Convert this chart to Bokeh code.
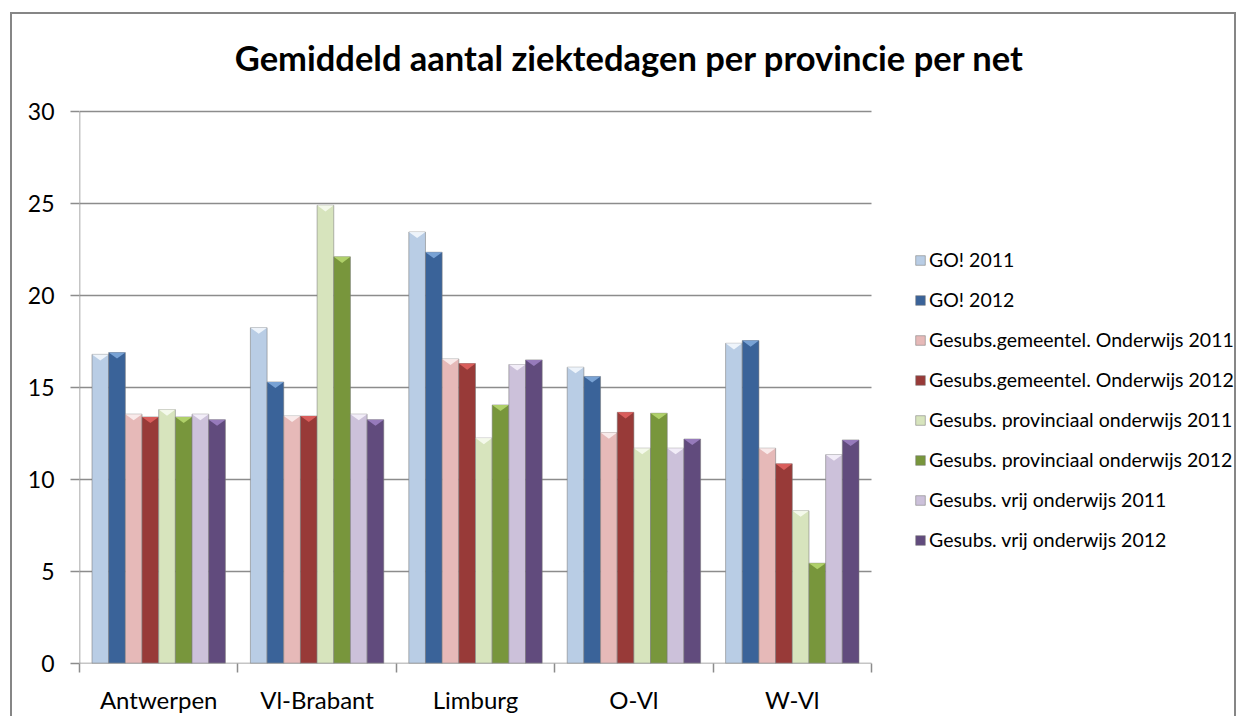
from bokeh.plotting import figure
from bokeh.models import FixedTicker, Range1d, ColumnDataSource, Legend, LegendItem, Label
from bokeh.embed import file_html
from bokeh.resources import INLINE

# ---- data ----
provinces = ["Antwerpen", "Vl-Brabant", "Limburg", "O-Vl", "W-Vl"]
series_names = [
    "GO! 2011",
    "GO! 2012",
    "Gesubs.gemeentel. Onderwijs 2011",
    "Gesubs.gemeentel. Onderwijs 2012",
    "Gesubs. provinciaal onderwijs 2011",
    "Gesubs. provinciaal onderwijs 2012",
    "Gesubs. vrij onderwijs 2011",
    "Gesubs. vrij onderwijs 2012",
]
go_2011 = [16.8, 18.25, 23.45, 16.1, 17.4]
go_2012 = [16.9, 15.3, 22.35, 15.6, 17.55]
gem_2011 = [13.55, 13.45, 16.55, 12.55, 11.7]
gem_2012 = [13.4, 13.45, 16.3, 13.65, 10.85]
prov_2011 = [13.8, 24.9, 12.25, 11.7, 8.3]
prov_2012 = [13.4, 22.1, 14.05, 13.6, 5.45]
vrij_2011 = [13.55, 13.55, 16.25, 11.7, 11.35]
vrij_2012 = [13.25, 13.25, 16.5, 12.2, 12.15]
series_values = [go_2011, go_2012, gem_2011, gem_2012,
                 prov_2011, prov_2012, vrij_2011, vrij_2012]
y_ticks = [0, 5, 10, 15, 20, 25, 30]
title_text = "Gemiddeld aantal ziektedagen per provincie per net"

# ---- styles / layout ----
colors = ["#B9CDE5", "#3A6399", "#E6B9B8", "#983A38",
          "#D7E4BD", "#78963C", "#CCC1DA", "#614B7D"]
bevel = ["#F4F8FD", "#7FA8DA", "#FBF0F0", "#E0625F",
         "#F7FBEF", "#B5D66E", "#F6F2FB", "#9C7FC2"]
FONT = "Lato"
GRAY = "#8C8C8C"

FIG_W, FIG_H = 1226, 704
BORDER_L, BORDER_R, BORDER_T, BORDER_B = 67, 0, 0, 55
CHART_PX_W = 792        # pixel width of the bar area
CHART_PX_H = 552        # pixel height of the value axis (0..30)
frame_w = FIG_W - BORDER_L - BORDER_R
frame_h = FIG_H - BORDER_T - BORDER_B
n_cat = len(provinces)
y_top = y_ticks[-1]
x_end = n_cat * frame_w / CHART_PX_W   # frame also hosts the legend
y_end = y_top * frame_h / CHART_PX_H   # frame also hosts the title

p = figure(width=FIG_W, height=FIG_H, title=None,
           x_range=Range1d(0, x_end), y_range=Range1d(0, y_end),
           output_backend="svg", toolbar_location=None,
           min_border_left=BORDER_L, min_border_right=BORDER_R,
           min_border_top=BORDER_T, min_border_bottom=BORDER_B)
p.styles = {"border-top": "2px solid #868686",
            "border-left": "2px solid #868686",
            "border-right": "2px solid #868686",
            "position": "relative", "left": "10px", "top": "12px"}
p.outline_line_color = None
p.background_fill_color = "white"
p.border_fill_color = "white"
p.xgrid.grid_line_color = None
p.ygrid.grid_line_color = None

# horizontal gridlines limited to the bar area
grid_y = y_ticks[1:]
p.segment(x0=[0] * len(grid_y), x1=[n_cat] * len(grid_y), y0=grid_y, y1=grid_y,
          line_color=GRAY, line_width=1.5)

n_series = len(series_values)
bw = 1.0 / (n_series + 1.5)
bevel_depth = 0.33

renderers = []
for j, (name, vals) in enumerate(zip(series_names, series_values)):
    xs = [i + 0.5 + (j - (n_series - 1) / 2) * bw for i in range(n_cat)]
    src = ColumnDataSource(dict(x=xs, top=vals))
    r = p.vbar(x="x", top="top", width=bw, source=src,
               fill_color=colors[j], line_color="#7A7A7A", line_alpha=0.55,
               line_width=1)
    renderers.append(r)
    tri_x = [[x - bw / 2, x + bw / 2, x] for x in xs]
    tri_y = [[v, v, v - bevel_depth] for v in vals]
    p.patches(tri_x, tri_y, fill_color=bevel[j], line_color=None, fill_alpha=0.9)

# axis lines limited to the chart area
p.segment(x0=[0], x1=[n_cat], y0=[y_ticks[0]], y1=[y_ticks[0]],
          line_color=GRAY, line_width=1.5)
p.segment(x0=[0], x1=[0], y0=[y_ticks[0]], y1=[y_top],
          line_color=GRAY, line_width=1.5)

# y axis (ticks + labels only)
p.yaxis.ticker = FixedTicker(ticks=y_ticks, minor_ticks=[])
p.yaxis.axis_line_color = None
p.yaxis.major_tick_line_color = GRAY
p.yaxis.major_tick_line_width = 1.5
p.yaxis.major_tick_in = 0
p.yaxis.major_tick_out = 9
p.yaxis.minor_tick_line_color = None
p.yaxis.major_label_standoff = 16
p.yaxis.major_label_text_font = FONT
p.yaxis.major_label_text_font_size = "23px"
p.yaxis.major_label_text_color = "black"

# x axis (labels at category centres, tick marks at boundaries)
centers = [i + 0.5 for i in range(n_cat)]
bounds = [float(i) for i in range(n_cat + 1)]
p.xaxis.ticker = FixedTicker(ticks=centers, minor_ticks=bounds)
p.xaxis.major_label_overrides = {c: name for c, name in zip(centers, provinces)}
p.xaxis.axis_line_color = None
p.xaxis.major_tick_line_color = None
p.xaxis.major_tick_in = 0
p.xaxis.major_tick_out = 0
p.xaxis.minor_tick_line_color = GRAY
p.xaxis.minor_tick_line_width = 1.5
p.xaxis.minor_tick_in = 0
p.xaxis.minor_tick_out = 9
p.xaxis.major_label_standoff = 12
p.xaxis.major_label_text_font = FONT
p.xaxis.major_label_text_font_size = "24px"
p.xaxis.major_label_text_color = "black"

# title, centred over the whole chart
title = Label(x=550, y=606, x_units="screen", y_units="screen", text=title_text,
              text_font=FONT, text_font_size="34.5px", text_font_style="bold",
              text_align="center", text_baseline="alphabetic", text_color="black")
p.add_layout(title)

# legend (inside the wide frame, right of the bars)
items = [LegendItem(label=n, renderers=[r]) for n, r in zip(series_names, renderers)]
lg = Legend(items=items, location=(835, 112))
lg.padding = 0
lg.margin = 0
lg.border_line_color = None
lg.background_fill_alpha = 0
lg.glyph_width = 12
lg.glyph_height = 12
lg.label_standoff = 3
lg.label_text_font = FONT
lg.label_text_font_size = "19.5px"
lg.label_text_color = "black"
lg.label_height = 20
lg.spacing = 17
p.add_layout(lg)

open("out.html", "w").write(file_html(p, INLINE))
